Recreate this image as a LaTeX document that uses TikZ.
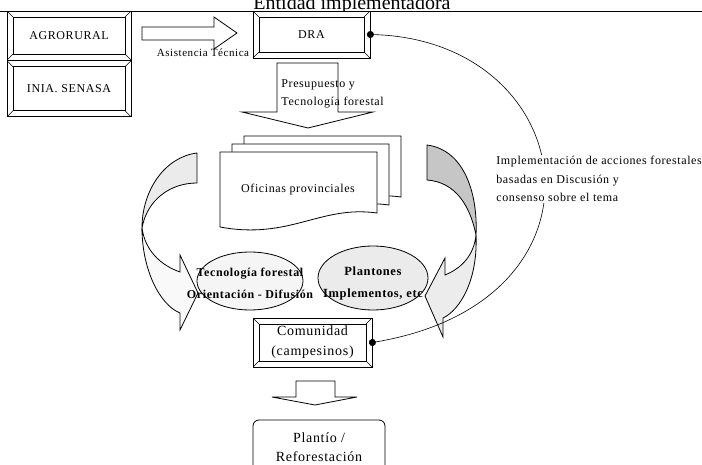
\documentclass[tikz,border=0pt]{standalone}
\usepackage{fontspec}
\setmainfont{Liberation Serif}
\newfontfamily\scan{Liberation Serif}[LetterSpace=5]
\usetikzlibrary{positioning,arrows.meta}

\begin{document}
\begin{tikzpicture}[x=1pt,y=-1pt,line width=.8pt,
  bevel/.style={draw,fill=white,align=center,
    path picture={
      \draw[line width=.6pt] ([shift={(6pt,-6pt)}]path picture bounding box.north west)
        rectangle ([shift={(-6pt,6pt)}]path picture bounding box.south east);
      \foreach \c/\dx/\dy in {north west/6/-6,north east/-6/-6,south west/6/6,south east/-6/6}
        \draw[line width=.6pt] (path picture bounding box.\c) -- ++(\dx pt,\dy pt);
    }},
  fs/.style={font=\scan\fontsize{#1}{#1}\selectfont}]
\tikzstyle{blockarrow}=[draw,fill=white,line join=miter]
\useasboundingbox (0,0) rectangle (702,465);

% entidad
\draw (0,11) -- (702,11);
\node[anchor=base,inner sep=0,font=\fontsize{20}{22}\selectfont] (title) at (352,10) {Entidad implementadora};

\node[bevel,fs=12,minimum width=124pt,minimum height=49pt] (agro) at (69,35.5) {AGRORURAL};
\node[bevel,fs=12,minimum width=124pt,minimum height=56pt,below=0pt of agro] (inia) {INIA. SENASA};
\node[bevel,fs=12,minimum width=117pt,minimum height=47pt] (dra) at (311.5,34.5) {DRA};

\draw[blockarrow] (142,27) -- (214,27) -- (214,17) -- (237,33) -- (214,49) -- (214,40) -- (142,40) -- cycle;
\node[fs=11,anchor=base,inner sep=0] (asist) at (203,56.5) {Asistencia Técnica};

\draw[blockarrow] (277,63) -- (338,63) -- (338,112) -- (373,112) -- (308,128) -- (242,112) -- (277,112) -- cycle;
\node[fs=12,align=left,anchor=west,inner sep=0,font=\scan\fontsize{12}{18}\selectfont] (presup) at (281,94)
  {Presupuesto y\\Tecnología forestal};

% oficinas
\foreach \d in {2,1,0}
  \draw[fill=white,shift={(12*\d,-8*\d)}] (220,152) -- (377,152) -- (377,213)
    .. controls (320,205) and (290,240) .. (220,227) -- cycle;
\node[fs=12] (ofic) at (298,190) {Oficinas provinciales};

% curved arrows
\draw[fill=gray!16] (197,153) .. controls (165,157) and (142,190) .. (142,228)
  .. controls (147,200) and (170,183) .. (197,183) -- cycle;
\draw[fill=gray!5,line join=miter] (142,228) .. controls (142,270) and (160,305) .. (180,313)
  -- (180,330) -- (198,293) -- (180,255) -- (180,272)
  .. controls (160,265) and (145,250) .. (142,228) -- cycle;
\draw[fill=gray!45] (427,145) .. controls (465,150) and (478,195) .. (476,235)
  .. controls (470,205) and (455,182) .. (427,180) -- cycle;
\draw[fill=gray!15,line join=miter] (476,235) .. controls (478,280) and (460,310) .. (443,318)
  -- (443,337) -- (425,296) -- (445,258) -- (445,275)
  .. controls (462,268) and (474,255) .. (476,235) -- cycle;

\draw[fill=gray!8] (250,281) ellipse [x radius=53,y radius=29];
\draw[fill=gray!16] (373,278) ellipse [x radius=55,y radius=32];
\node[align=center,font=\scan\bfseries\fontsize{12}{22}\selectfont] (tecno) at (250,283.5)
  {Tecnología forestal\\Orientación - Difusión};
\node[align=center,font=\scan\bfseries\fontsize{12.5}{22}\selectfont] (plant) at (373,283.5)
  {Plantones\\Implementos, etc};

\node[bevel,font=\scan\fontsize{14}{20}\selectfont,minimum width=119pt,minimum height=49pt] (comun) at (312.5,342.5)
  {Comunidad\\(campesinos)};

\draw[{Circle[length=7pt]}-{Circle[length=7pt]},line width=.6pt,shorten <=-3.5pt,shorten >=-3.5pt]
  (dra.east) .. controls +(210,6) and +(250,-42) .. (comun.east);
\node[fill=white,anchor=north west,align=left,inner sep=1pt,font=\scan\fontsize{12}{18.5}\selectfont] (impl) at (495,155)
  {Implementación de acciones forestales\\basadas en Discusión y\\consenso sobre el tema};

% plantio
\draw[blockarrow] (296,381) -- (335,381) -- (335,397) -- (357,397) -- (315,405) -- (272,397) -- (296,397) -- cycle;
\node[draw,rounded corners=6pt,align=center,font=\scan\fontsize{14}{19}\selectfont,
  minimum width=132pt,minimum height=54pt] (plantio) at (319,447) {Plantío /\\Reforestación};
\end{tikzpicture}
\end{document}
